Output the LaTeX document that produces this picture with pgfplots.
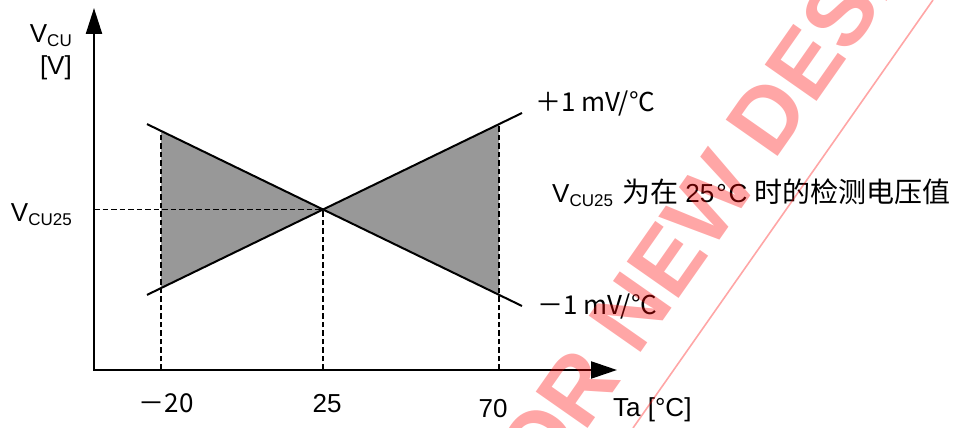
\documentclass[border=0pt]{standalone}
\usepackage{fontspec}
\setmainfont{Liberation Sans}
\newfontfamily\cjk{Noto Sans CJK SC}
\usepackage{pgfplots}
\pgfplotsset{compat=1.18}
\usetikzlibrary{arrows.meta}
\definecolor{shade}{RGB}{152,152,152}
\newcommand{\lbl}{\fontsize{26bp}{30bp}\selectfont}
\newcommand{\sub}[1]{\raisebox{-4bp}{\fontsize{17bp}{17bp}\selectfont #1}}
\newcommand{\zh}[1]{{\fontsize{28bp}{30bp}\selectfont\cjk #1}}

\begin{document}
\begin{tikzpicture}[lab/.style={font=\lbl, inner sep=0pt}]
\begin{axis}[name=ax, scale only axis, width=954bp, height=428bp,
  xmin=0, xmax=954, ymin=0, ymax=428, hide axis, clip=false]
% shaded regions between -20 and 25, 25 and 70
\addplot[fill=shade, draw=none] coordinates {(161,297.1) (323,218.5) (161,139.9) (161,297.1)};
\addplot[fill=shade, draw=none] coordinates {(499,303.9) (323,218.5) (499,133.1) (499,303.9)};
% dashed guides
\addplot[black, line width=1.8bp, dash pattern=on 5.5bp off 3bp] coordinates {(94,218.5) (323,218.5)};
\addplot[black, line width=1.8bp, dash pattern=on 5.5bp off 3bp] coordinates {(161,58) (161,297.1)};
\addplot[black, line width=1.8bp, dash pattern=on 5.5bp off 3bp] coordinates {(323,58) (323,218.5)};
\addplot[black, line width=1.8bp, dash pattern=on 5.5bp off 3bp] coordinates {(499,58) (499,303.9)};
% +-1 mV/C lines
\addplot[black, line width=2bp] coordinates {(147,303.9) (522,122)};
\addplot[black, line width=2bp] coordinates {(147,133.1) (522,315)};
% axes
\addplot[black, line width=2.3bp, -{Triangle[length=26bp,width=16bp]}] coordinates {(94,57) (94,420)};
\addplot[black, line width=2.3bp, -{Triangle[length=26bp,width=17bp]}] coordinates {(93,58) (617,58)};
% labels
\node[lab, anchor=base east] at (axis cs:72,385) {V\sub{CU}};
\node[lab, anchor=base east] at (axis cs:72,353) {[V]};
\node[lab, anchor=base east] at (axis cs:72,206) {V\sub{CU25}};
\node[lab, anchor=base] at (axis cs:166,15) {\cjk{－}20};
\node[lab, anchor=base] at (axis cs:327,15) {25};
\node[lab, anchor=base] at (axis cs:493,10) {70};
\node[lab, anchor=base west] at (axis cs:613,11) {Ta [°C]};
\node[lab, anchor=base west] at (axis cs:535,316) {\cjk{＋}1 mV/°C};
\node[lab, anchor=base west] at (axis cs:537,113) {\cjk{－}1 mV/°C};
\node[lab, anchor=base west] at (axis cs:552,225)
  {V\sub{CU25}\hspace{2bp} \zh{为在} 25\kern2bp°\kern2bpC \zh{时的检测电压值}};
\coordinate (wm) at (axis cs:385,-290);
\coordinate (wl1) at (axis cs:633,0);
\coordinate (wl2) at (axis cs:933,428);
\end{axis}
\begin{scope}
\clip (ax.south west) rectangle (ax.north east);
\node[rotate=55, anchor=base west, text=red, text opacity=0.35, inner sep=0pt,
  font=\fontsize{92bp}{96bp}\selectfont\bfseries] at (wm) {NOT FOR NEW DESIGN};
\draw[red, draw opacity=0.35, line width=1.6bp] (wl1) -- (wl2);
\end{scope}
\pgfresetboundingbox
\useasboundingbox (ax.south west) rectangle (ax.north east);
\end{tikzpicture}
\end{document}
